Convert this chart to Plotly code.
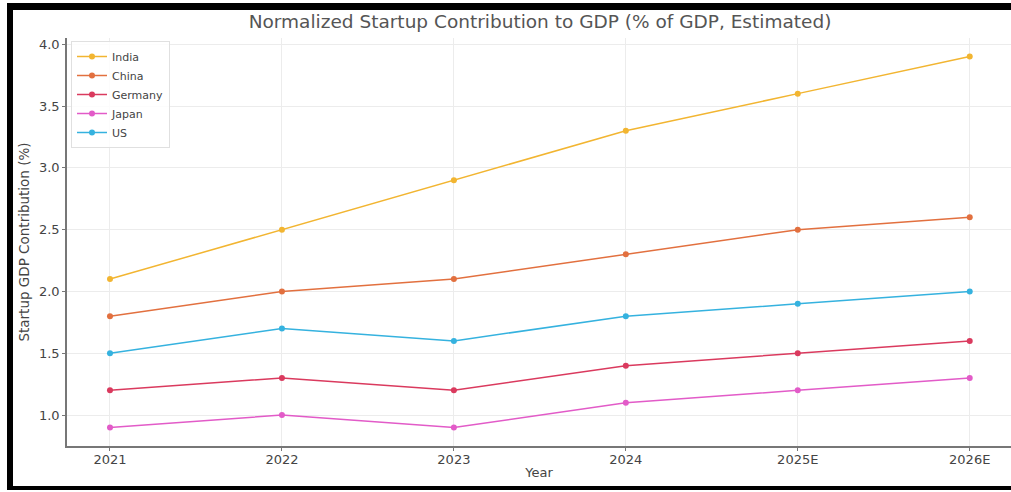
import plotly.graph_objects as go

years = ["2021", "2022", "2023", "2024", "2025E", "2026E"]
india = [2.1, 2.5, 2.9, 3.3, 3.6, 3.9]
china = [1.8, 2.0, 2.1, 2.3, 2.5, 2.6]
germany = [1.2, 1.3, 1.2, 1.4, 1.5, 1.6]
japan = [0.9, 1.0, 0.9, 1.1, 1.2, 1.3]
us = [1.5, 1.7, 1.6, 1.8, 1.9, 2.0]

series = [
    ("India", india, "#F2B531"),
    ("China", china, "#E2703F"),
    ("Germany", germany, "#DA3A5E"),
    ("Japan", japan, "#E25BC8"),
    ("US", us, "#35B2DF"),
]

W, H = 1011, 492
L, R, T, B = 67, 1011, 38, 446

fig = go.Figure()
for name, vals, col in series:
    fig.add_trace(go.Scatter(
        x=years, y=vals, name=name, mode="lines+markers",
        line=dict(color=col, width=1.5),
        marker=dict(color=col, size=6),
    ))

def px_x(p):
    return (p - L) / (R - L)

def px_y(p):
    return (B - p) / (B - T)

shapes = []
for x0, y0, x1, y1 in [(7, 3, 13, 490), (7, 3, 1011, 10), (7, 486, 1011, 490)]:
    shapes.append(dict(type="rect", xref="paper", yref="paper",
                       x0=px_x(x0), x1=px_x(x1), y0=px_y(y1), y1=px_y(y0),
                       fillcolor="black", line=dict(width=0), layer="above"))

fig.update_layout(
    width=W, height=H,
    margin=dict(l=L, r=W - R, t=T, b=H - B),
    paper_bgcolor="white", plot_bgcolor="white",
    font=dict(family="DejaVu Sans", color="#555555"),
    title=dict(text="Normalized Startup Contribution to GDP (% of GDP, Estimated)",
               x=px_x(540), xref="paper", xanchor="center",
               y=1 - 22 / H, yanchor="middle",
               font=dict(size=18.5, color="#555555")),
    xaxis=dict(
        range=[-0.25, 5.24], showgrid=True, gridcolor="#ececec", gridwidth=1,
        showline=True, linecolor="#777777", linewidth=1.5,
        ticks="outside", ticklen=3, tickcolor="#777777",
        ticklabelstandoff=-2,
        tickfont=dict(size=13, color="#444444"),
        title=dict(text="Year", font=dict(size=13, color="#444444"), standoff=2),
        zeroline=False,
    ),
    yaxis=dict(
        range=[0.75, 4.05], tickvals=[1.0, 1.5, 2.0, 2.5, 3.0, 3.5, 4.0],
        tickformat=".1f", showgrid=True, gridcolor="#ececec", gridwidth=1,
        showline=True, linecolor="#777777", linewidth=1.5,
        ticks="outside", ticklen=3, tickcolor="#777777",
        tickfont=dict(size=13, color="#444444"),
        title=dict(text="Startup GDP Contribution (%)", font=dict(size=13.5, color="#444444"), standoff=6),
        zeroline=False,
    ),
    legend=dict(x=px_x(71), y=px_y(41), xanchor="left", yanchor="top",
                bgcolor="rgba(255,255,255,0.85)", bordercolor="#e0e0e0", borderwidth=1,
                font=dict(size=11, color="#444444"), itemwidth=30,
                tracegroupgap=0),
    shapes=shapes,
    showlegend=True,
)

fig.write_html("out.html")
